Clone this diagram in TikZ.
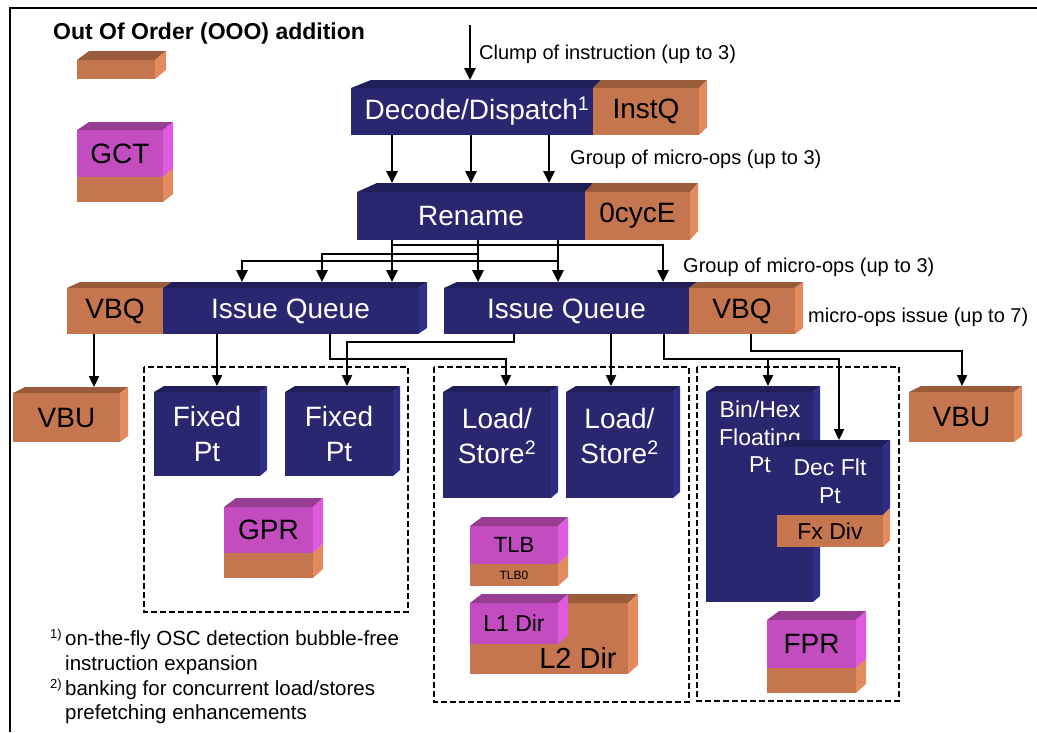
\documentclass[tikz,border=0pt]{standalone}
\usepackage{fontspec}
\setmainfont{Liberation Sans}
\usetikzlibrary{arrows.meta,calc}

% face colours: front / top / side
\definecolor{navyF}{HTML}{29276F}
\definecolor{navyT}{HTML}{201E58}
\definecolor{navyS}{HTML}{2E2D88}
\definecolor{orgF}{HTML}{C5764E}
\definecolor{orgT}{HTML}{9A5B3B}
\definecolor{orgS}{HTML}{E38A5E}
\definecolor{magF}{HTML}{C34DC0}
\definecolor{magT}{HTML}{963D92}
\definecolor{magS}{HTML}{E05AE0}

\tikzset{
  slabbox/.style={inner sep=0pt,outer sep=0pt,align=center},
  big/.style={font=\fontsize{28}{35}\selectfont},
  mid/.style={font=\fontsize{23}{27.5}\selectfont},
  wt/.style={text=white},
  note/.style={font=\fontsize{20}{24}\selectfont,anchor=base west,inner sep=0pt},
  foot/.style={font=\fontsize{20.5}{25}\selectfont,anchor=base west,inner sep=0pt},
  arr/.style={line width=2.6pt,-{Triangle[length=12pt,width=11pt]}},
  wire/.style={line width=2.3pt,-{Triangle[length=11pt,width=10pt]}},
  unitframe/.style={line width=2pt,dash pattern=on 6pt off 3pt},
}

% front face of a block: [options]{name}{x0}{y0}{x1}{y1}{fill}{text}
\newcommand\slab[8][]{\node[slabbox,fill=#7,minimum width={(#5-#3)*1pt},minimum height={(#6-#4)*1pt},#1] (#2) at ({(#3+#5)/2},{(#4+#6)/2}) {#8};}
% top face: {name}{left shift}{right shift}{fill}
\newcommand\lid[4]{\fill[#4] (#1.north west) -- ++(#2) -- ($(#1.north east)+(#3)$) -- (#1.north east) -- cycle;}
% right face: {name}{shift}{fill}
\newcommand\flank[3]{\fill[#3] (#1.north east) -- ++(#2) -- ($(#1.south east)+(#2)$) -- (#1.south east) -- cycle;}
% footnote marker
\newcommand\fnmark[1]{\llap{\raisebox{7pt}{\fontsize{13}{13}\selectfont #1}\,}}

\begin{document}
\begin{tikzpicture}[x=1pt,y=-1pt]
\useasboundingbox (0,0) rectangle (1037,732);

% page frame
\draw[line width=1.5pt] (10,732) -- (10,8) -- (1037,8);

% legend
\node[font=\fontsize{23}{27}\selectfont\bfseries,anchor=base west,inner sep=0pt] (title) at (53,39) {Out Of Order (OOO) addition};
\slab{leg}{77}{60}{155}{79}{orgF}{}
\lid{leg}{12,-9}{11,-9}{orgT}
\flank{leg}{11,-9}{orgS}

\slab[big]{gct}{77}{130}{163}{177}{magF}{GCT}
\slab{gctb}{77}{177}{163}{202}{orgF}{}
\lid{gct}{12,-8}{10,-8}{magT}
\flank{gct}{10,-8}{magS}
\flank{gctb}{10,-8}{orgS}

% decode / dispatch
\coordinate (in) at (470,25);
\slab{dec}{351}{88}{593}{135}{navyF}{}
\slab[big]{instq}{593}{88}{699}{135}{orgF}{InstQ}
\lid{dec}{20,-8}{8,-8}{navyT}
\lid{instq}{8,-8}{8,-8}{orgT}
\flank{instq}{8,-8}{orgS}
\node[big,wt,inner sep=0pt] (dectxt) at (477,111) {Decode/Dispatch\textsuperscript{1}};

% rename
\slab[big,wt]{ren}{357}{192}{585}{240}{navyF}{Rename}
\slab[big]{cyc}{585}{192}{690}{240}{orgF}{0cycE}
\lid{ren}{20,-9}{8,-9}{navyT}
\lid{cyc}{8,-9}{8,-9}{orgT}
\flank{cyc}{8,-9}{orgS}

% issue queues
\slab[big]{vbql}{67}{288}{163}{334}{orgF}{VBQ}
\slab[big,wt]{iql}{163}{288}{418}{334}{navyF}{Issue Queue}
\lid{vbql}{13,-6}{9,-6}{orgT}
\lid{iql}{9,-6}{9,-6}{navyT}
\flank{iql}{9,-6}{navyS}

\slab[big,wt]{iqr}{444}{288}{689}{334}{navyF}{Issue Queue}
\slab[big]{vbqr}{689}{288}{795}{334}{orgF}{VBQ}
\lid{iqr}{13,-6}{8,-6}{navyT}
\lid{vbqr}{8,-6}{8,-6}{orgT}
\flank{vbqr}{8,-6}{orgS}

% unit groups
\draw[unitframe] (144,367) rectangle (408,612);
\draw[unitframe] (434,367) rectangle (689,702);
\draw[unitframe] (697,367) rectangle (899,701);

% vector branch units
\slab[big]{vbul}{13}{393}{120}{442}{orgF}{VBU}
\lid{vbul}{12,-6}{8,-6}{orgT}
\flank{vbul}{8,-6}{orgS}
\slab[big]{vbur}{909}{392}{1014}{442}{orgF}{VBU}
\lid{vbur}{12,-6}{8,-6}{orgT}
\flank{vbur}{8,-6}{orgS}

% fixed point
\slab[big,wt]{fx1}{154}{392}{260}{476}{navyF}{Fixed\\Pt}
\lid{fx1}{10,-6}{7,-6}{navyT}
\flank{fx1}{7,-6}{navyS}
\slab[big,wt]{fx2}{285}{392}{393}{476}{navyF}{Fixed\\Pt}
\lid{fx2}{10,-6}{7,-6}{navyT}
\flank{fx2}{7,-6}{navyS}

\slab[big]{gpr}{224}{507}{313}{553}{magF}{GPR}
\slab{gprb}{224}{553}{313}{578}{orgF}{}
\lid{gpr}{12,-9}{10,-9}{magT}
\flank{gpr}{10,-9}{magS}
\flank{gprb}{10,-9}{orgS}

% load / store
\slab{ls1}{443}{392}{551}{498}{navyF}{}
\lid{ls1}{10,-6}{7,-6}{navyT}
\flank{ls1}{7,-6}{navyS}
\node[big,wt,align=center,inner sep=0pt] (ls1txt) at (497,436) {Load/\\Store\textsuperscript{2}};
\slab{ls2}{566}{392}{673}{498}{navyF}{}
\lid{ls2}{10,-6}{7,-6}{navyT}
\flank{ls2}{7,-6}{navyS}
\node[big,wt,align=center,inner sep=0pt] (ls2txt) at (619.5,436) {Load/\\Store\textsuperscript{2}};

\slab[font=\fontsize{22}{26}\selectfont]{tlb}{470}{526}{558}{564}{magF}{TLB}
\slab[font=\fontsize{12}{14}\selectfont]{tlbz}{470}{564}{558}{586}{orgF}{TLB0}
\lid{tlb}{12,-9}{10,-9}{magT}
\flank{tlb}{10,-9}{magS}
\flank{tlbz}{10,-9}{orgS}

\slab{l2}{470}{603}{628}{674}{orgF}{}
\lid{l2}{12,-9}{10,-9}{orgT}
\flank{l2}{10,-9}{orgS}
\node[font=\fontsize{29}{33}\selectfont,inner sep=0pt] (l2txt) at (578,658) {L2 Dir};
\slab[mid]{l1}{470}{603}{558}{644}{magF}{L1 Dir}
\lid{l1}{12,-9}{10,-9}{magT}
\flank{l1}{10,-9}{magS}

% floating point
\slab{bhx}{706}{392}{813}{602}{navyF}{}
\lid{bhx}{10,-6}{7,-6}{navyT}
\flank{bhx}{7,-6}{navyS}
\node[mid,wt,align=center,inner sep=0pt,anchor=north] (bhxtxt) at (760,401) {Bin/Hex\\Floating\\Pt};

\slab[mid,wt]{dfp}{777}{447}{883}{515}{navyF}{Dec Flt\\Pt}
\slab[mid]{fxd}{777}{515}{883}{547}{orgF}{Fx Div}
\lid{dfp}{10,-7}{7,-7}{navyT}
\flank{dfp}{7,-7}{navyS}
\flank{fxd}{7,-7}{orgS}

\slab[big]{fpr}{767}{620}{856}{668}{magF}{FPR}
\slab{fprb}{767}{668}{856}{693}{orgF}{}
\lid{fpr}{12,-9}{10,-9}{magT}
\flank{fpr}{10,-9}{magS}
\flank{fprb}{10,-9}{orgS}

% instruction flow
\draw[arr] (in) -- ($(dec.north -| in)+(0,-8)$);
\foreach \x in {392,471,549}
  \draw[arr] (dec.south -| \x,0) -- ($(ren.north -| \x,0)+(0,-9)$);

\draw[arr] (ren.south -| 392,0) -- ($(iql.north -| 392,0)+(0,-6)$);
\draw[arr] (ren.south -| 392,0) -- ++(0,5) -| ($(iqr.north -| 663,0)+(0,-6)$);
\draw[arr] (ren.south -| 478,0) -- ($(iqr.north -| 478,0)+(0,-6)$);
\draw[arr] (ren.south -| 478,0) -- ++(0,14) -| ($(iql.north -| 322,0)+(0,-6)$);
\draw[arr] (ren.south -| 558,0) -- ($(iqr.north -| 558,0)+(0,-6)$);
\draw[arr] (ren.south -| 558,0) -- ++(0,21) -| ($(iql.north -| 242,0)+(0,-6)$);

% issue to units
\draw[wire] (vbql.south -| 94,0) -- ($(vbul.north -| 94,0)+(0,-6)$);
\draw[wire] (iql.south -| 217,0) -- ($(fx1.north -| 217,0)+(0,-6)$);
\draw[wire] (iql.south -| 330,0) -- ++(0,25) -| ($(ls1.north -| 506,0)+(0,-6)$);
\draw[wire] (iqr.south -| 514,0) -- ++(0,8) -| ($(fx2.north -| 347,0)+(0,-6)$);
\draw[wire] (iqr.south -| 611,0) -- ($(ls2.north -| 611,0)+(0,-6)$);
\draw[wire] (iqr.south -| 664,0) -- ++(0,25) -| ($(dfp.north -| 839,0)+(0,-7)$);
\draw[wire] ($(iqr.south -| 768,0)+(0,25)$) -- ($(bhx.north -| 768,0)+(0,-6)$);
\draw[wire] (vbqr.south -| 751,0) -- ++(0,17) -| ($(vbur.north -| 962,0)+(0,-6)$);

% flow labels
\node[note] (l1lbl) at (479,59) {Clump of instruction (up to 3)};
\node[note] (l2lbl) at (570,164) {Group of micro-ops (up to 3)};
\node[note] (l3lbl) at (683,272) {Group of micro-ops (up to 3)};
\node[note] (l4lbl) at (808,322) {micro-ops issue (up to 7)};

% footnotes
\node[foot] (fn1) at (65,645) {\fnmark{1)}on-the-fly OSC detection bubble-free};
\node[foot] (fn2) at (65,670) {instruction expansion};
\node[foot] (fn3) at (65,695) {\fnmark{2)}banking for concurrent load/stores};
\node[foot] (fn4) at (65,719) {prefetching enhancements};
\end{tikzpicture}
\end{document}
